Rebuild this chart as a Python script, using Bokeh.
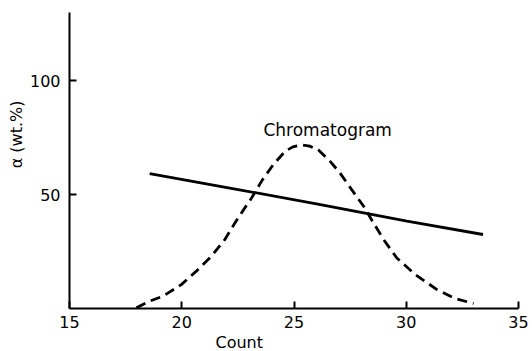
from bokeh.plotting import figure
from bokeh.models import Range1d, FixedTicker, Label, Title
from bokeh.embed import file_html
from bokeh.resources import INLINE

# Solid line: alpha (wt.%) vs count
line_x = [18.57, 22.14, 26.0, 30.03, 33.42]
line_y = [59.2, 52.9, 46.0, 38.4, 32.5]

# Dashed chromatogram curve
chrom_x = [17.98, 18.57, 19.17, 19.98, 20.65, 21.32, 21.92, 22.37, 22.81, 23.11,
           23.6, 24.08, 24.6, 24.95, 25.34, 25.7, 26.08, 26.61, 27.05, 27.57,
           28.1, 28.54, 28.99, 29.58, 30.4, 31.37, 32.19, 33.0]
chrom_y = [0.3, 3.2, 5.4, 10.5, 16.4, 22.9, 30.3, 37.6, 44.2, 48.5,
           56.6, 63.2, 69.0, 71.0, 71.9, 71.3, 69.7, 64.6, 59.5, 52.2,
           44.9, 37.6, 30.3, 22.2, 14.9, 8.3, 4.3, 2.2]

x_ticks = [15, 20, 25, 30, 35]
y_ticks = [50, 100]

FONT = "DejaVu Sans"

p = figure(width=532, height=351, output_backend="svg", toolbar_location=None,
           x_range=Range1d(15, 35), y_range=Range1d(0, 130),
           min_border_left=69, min_border_right=14, min_border_top=12,
           min_border_bottom=42)
p.outline_line_color = None
p.xgrid.visible = False
p.ygrid.visible = False
p.background_fill_color = "white"

for ax in (p.xaxis[0], p.yaxis[0]):
    ax.axis_line_width = 2
    ax.axis_line_color = "black"
    ax.major_tick_in = 7
    ax.major_tick_out = 0
    ax.major_tick_line_width = 2
    ax.minor_tick_line_color = None
    ax.major_label_text_font = FONT
    ax.major_label_text_font_size = "16px"
    ax.major_label_text_color = "black"

p.xaxis[0].ticker = FixedTicker(ticks=x_ticks)
p.yaxis[0].ticker = FixedTicker(ticks=y_ticks)
p.xaxis[0].major_label_standoff = 7
p.yaxis[0].major_label_standoff = 9

p.line(line_x, line_y, line_color="black", line_width=2.8)
p.line(chrom_x, chrom_y, line_color="black", line_width=2.8, line_dash="10 6")

p.add_layout(Label(x=26.5, y=78.5, text="Chromatogram", text_font=FONT,
                   text_font_size="17px", text_align="center",
                   text_baseline="middle", text_color="black"))

p.add_layout(Title(text="Count", align="left", offset=146, standoff=0,
                   text_font=FONT, text_font_size="16px",
                   text_font_style="normal", text_color="black",
                   vertical_align="bottom"), "below")
p.add_layout(Title(text="α (wt.%)", align="right", offset=88, standoff=0,
                   text_font=FONT, text_font_size="16px",
                   text_font_style="normal", text_color="black",
                   vertical_align="middle"), "left")

open("out.html", "w").write(file_html(p, INLINE))
